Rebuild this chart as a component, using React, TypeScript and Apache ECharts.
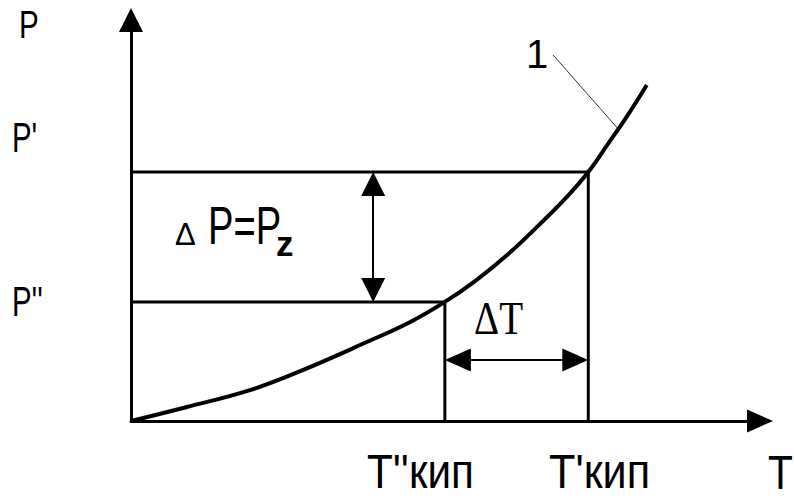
import React, { useEffect, useRef } from "react";
import * as echarts from "echarts";

// ---- data (arbitrary units, axes 0..100) ----
const curveT = [0, 8.9, 18.9, 27.3, 37.5, 44.4, 49.9, 54.7, 59.8, 65.0, 69.3, 72.7, 75.7, 78.9, 82.0];
const curveP = [0, 3.5, 7.7, 12.7, 19.7, 24.7, 29.7, 34.9, 41.4, 49.1, 55.9, 62.1, 68.8, 76.1, 83.8];
const tBoilLow = 49.9; // T''кип
const tBoilHigh = 72.7; // T'кип
const pLow = 29.7; // P''
const pHigh = 62.1; // P'
const dpArrowT = 38.5; // position of ΔP arrow on T axis
const dtArrowP = 15.2; // position of ΔT arrow on P axis
const leaderFrom = [67.1, 91.3];
const leaderTo = [77.3, 73.1];
const axisMin = 0;
const axisMax = 100;

// ---- layout ----
const W = 794;
const H = 498;
const GRID = { left: 131, right: 34, top: 20, bottom: 77 };
const pxPerX = (W - GRID.left - GRID.right) / (axisMax - axisMin);
const pxPerY = (H - GRID.top - GRID.bottom) / (axisMax - axisMin);
const vArrow = [24, 24];
const hArrow = [23, 26];
const insetY = vArrow[1] / 2 / pxPerY;
const insetX = hArrow[1] / 2 / pxPerX;

const SANS = "'Liberation Sans', Arial, sans-serif";
const SERIF = "'Liberation Serif', 'Times New Roman', serif";
const DELTA = "\u0394";

function txt(text: string, x: number, y: number, size: number, scaleX = 1, extra: any = {}) {
  const align = extra.align || "left";
  const family = extra.family || SANS;
  const weight = extra.weight || "normal";
  return {
    type: "text",
    x,
    y,
    scaleX,
    silent: true,
    style: {
      text,
      fontSize: size,
      fontFamily: family,
      fontWeight: weight,
      fill: "#000",
      align,
      textAlign: align,
      verticalAlign: "middle",
      textVerticalAlign: "middle",
    },
  };
}

const lineBase = {
  type: "line",
  symbol: "none",
  silent: true,
  animation: false,
};

const option: any = {
  animation: false,
  backgroundColor: "#fff",
  grid: GRID,
  xAxis: {
    type: "value",
    min: axisMin,
    max: axisMax,
    axisLine: {
      show: true,
      symbol: ["none", "triangle"],
      symbolSize: hArrow,
      lineStyle: { color: "#000", width: 3 },
    },
    axisTick: { show: false },
    axisLabel: { show: false },
    splitLine: { show: false },
  },
  yAxis: {
    type: "value",
    min: axisMin,
    max: axisMax,
    axisLine: {
      show: true,
      symbol: ["none", "triangle"],
      symbolSize: vArrow,
      lineStyle: { color: "#000", width: 3 },
    },
    axisTick: { show: false },
    axisLabel: { show: false },
    splitLine: { show: false },
  },
  series: [
    {
      ...lineBase,
      name: "1",
      data: curveT.map((t, i) => [t, curveP[i]]),
      smooth: 0.4,
      lineStyle: { color: "#000", width: 4 },
      z: 5,
      markLine: {
        silent: true,
        symbol: ["none", "none"],
        label: { show: false },
        lineStyle: { color: "#333", width: 1, type: "solid" },
        data: [[{ coord: leaderFrom }, { coord: leaderTo }]],
      },
    },
    {
      ...lineBase,
      name: "high",
      data: [
        [axisMin, pHigh],
        [tBoilHigh, pHigh],
        [tBoilHigh, axisMin],
      ],
      lineStyle: { color: "#000", width: 3 },
      markLine: {
        silent: true,
        symbol: ["triangle", "triangle"],
        symbolSize: vArrow,
        label: { show: false },
        lineStyle: { color: "#000", width: 2, type: "solid" },
        data: [[{ coord: [dpArrowT, pHigh - insetY] }, { coord: [dpArrowT, pLow + insetY] }]],
      },
    },
    {
      ...lineBase,
      name: "low",
      data: [
        [axisMin, pLow],
        [tBoilLow, pLow],
        [tBoilLow, axisMin],
      ],
      lineStyle: { color: "#000", width: 3 },
      markLine: {
        silent: true,
        symbol: ["triangle", "triangle"],
        symbolSize: hArrow,
        label: { show: false },
        lineStyle: { color: "#000", width: 2, type: "solid" },
        data: [[{ coord: [tBoilLow + insetX, dtArrowP] }, { coord: [tBoilHigh - insetX, dtArrowP] }]],
      },
    },
  ],
  graphic: [
    txt("P", 19, 25, 38, 0.78),
    txt("P'", 12, 138, 42, 0.7),
    txt("P''", 12, 302, 42, 0.7),
    txt(DELTA + "\u00A0", 175, 234, 31),
    txt("P=P", 208, 226, 53, 0.72),
    txt("z", 276, 243, 35, 1, { weight: "bold" }),
    txt(DELTA + "T", 474, 318, 46, 0.85, { family: SERIF }),
    txt("1", 537, 54, 40, 1, { align: "center" }),
    txt("T''кип", 367, 472, 48, 0.88),
    txt("T'кип", 549, 472, 48, 0.9),
    txt("T", 768, 472, 48, 0.85),
  ],
};

export default function App() {
  const ref = useRef<HTMLDivElement>(null);
  useEffect(() => {
    if (!ref.current) return;
    const chart = echarts.init(ref.current, null, { renderer: "svg" });
    chart.setOption(option);
    return () => chart.dispose();
  }, []);
  return (
    <div
      ref={ref}
      style={{ position: "fixed", left: 0, top: 0, width: W, height: H, background: "#fff" }}
    />
  );
}
